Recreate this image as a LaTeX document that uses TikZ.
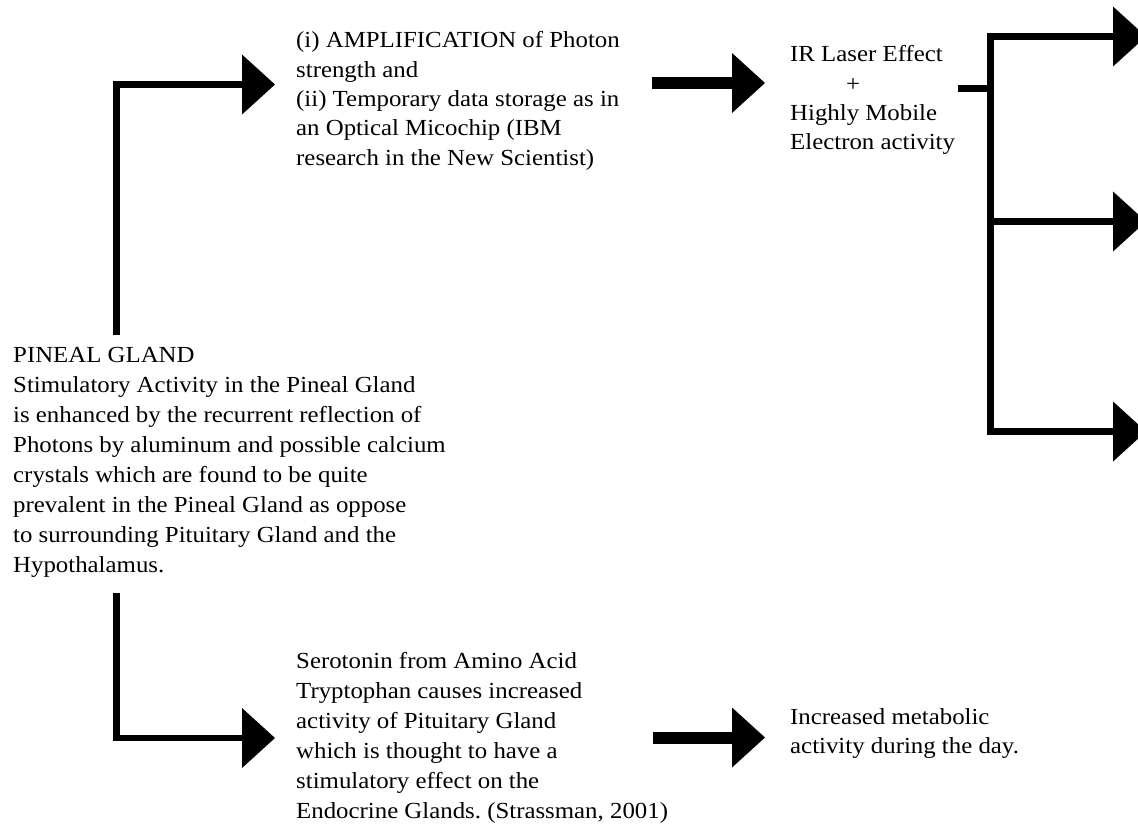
\documentclass[tikz,border=0pt]{standalone}
\usepackage{fontspec}
\setmainfont{Liberation Serif}[FakeStretch=1.08]
\usetikzlibrary{arrows.meta,calc}
\frenchspacing

\tikzset{
  txt/.style={inner sep=0pt, anchor=north west, align=left,
    font=\fontsize{23}{#1}\selectfont},
  txt/.default=30,
  elbow/.style={line width=6.5pt,
    -{Triangle[length=33pt,width=60pt,line width=0pt]}},
  fat/.style={line width=12pt,
    -{Triangle[length=33pt,width=60pt,line width=0pt]}},
  branch/.style={line width=7pt,
    -{Triangle[length=33pt,width=60pt,line width=0pt]}},
  stub/.style={line width=7pt}
}

\begin{document}
\begin{tikzpicture}[x=1pt,y=-1pt]
\useasboundingbox (0,0) rectangle (1138,825);

% text blocks
\node[txt=30] (pineal) at (13,341) {\strut PINEAL GLAND\\
Stimulatory Activity in the Pineal Gland\\
is enhanced by the recurrent reflection of\\
Photons by aluminum and possible calcium\\
crystals which are found to be quite\\
prevalent in the Pineal Gland as oppose\\
to surrounding Pituitary Gland and the\\
Hypothalamus.};

\node[txt=29.4] (amp) at (296,27) {\strut (i) AMPLIFICATION of Photon\\
strength and\\
(ii) Temporary data storage as in\\
an Optical Micochip (IBM\\
research in the New Scientist)};

\node[txt=29.3] (ir) at (790,41) {\strut IR Laser Effect\\
\hspace*{56pt}+\\
Highly Mobile\\
Electron activity};

\node[txt=30] (sero) at (296,647) {\strut Serotonin from Amino Acid\\
Tryptophan causes increased\\
activity of Pituitary Gland\\
which is thought to have a\\
stimulatory effect on the\\
Endocrine Glands. (Strassman, 2001)};

\node[txt=29] (meta) at (790,704) {\strut Increased metabolic\\
activity during the day.};

% connector end points, placed against the text blocks
\coordinate (pgUp)    at ($(pineal.north west)+(103.5,-6)$);
\coordinate (pgDown)  at ($(pineal.south west)+(103.5,16)$);
\coordinate (ampIn)   at ($(amp.north west)+(-21,57.5)$);
\coordinate (ampOut)  at ($(amp.north west)+(356,56)$);
\coordinate (irIn)    at ($(ir.north west)+(-25,42)$);
\coordinate (irOut)   at ($(ir.north west)+(168,47.5)$);
\coordinate (hub)     at ($(ir.north west)+(200.5,47.5)$);
\coordinate (seroIn)  at ($(sero.north west)+(-21,91)$);
\coordinate (seroOut) at ($(sero.north west)+(357,90.5)$);
\coordinate (metaIn)  at ($(meta.north west)+(-25,33.5)$);
\coordinate (outA)    at ($(hub)+(155.5,-52)$);
\coordinate (outB)    at ($(hub)+(155.5,133)$);
\coordinate (outC)    at ($(hub)+(155.5,343)$);

% elbow connectors out of the pineal block
\draw[elbow] (pgUp) |- (ampIn);
\draw[elbow] (pgDown) |- (seroIn);

% straight block arrows
\draw[fat] (ampOut) -- (irIn);
\draw[fat] (seroOut) -- (metaIn);

% three-way branch after the IR block
\draw[stub] (irOut) -- (hub);
\draw[branch] (hub) |- (outA);
\draw[branch] (hub) |- (outB);
\draw[branch] (hub) |- (outC);
\end{tikzpicture}
\end{document}
